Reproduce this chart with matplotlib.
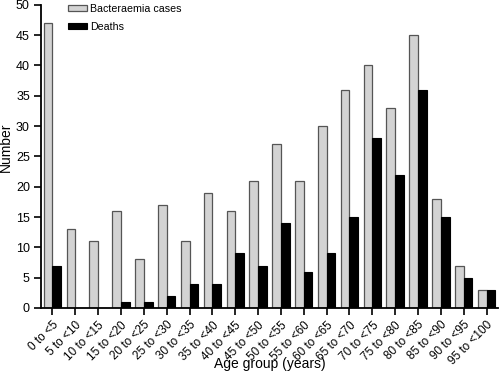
import numpy as np
import matplotlib
matplotlib.use('Agg')
import matplotlib.pyplot as plt

# --- Data --- #
age_groups = ['0 to <5', '5 to <10', '10 to <15', '15 to <20', '20 to <25',
              '25 to <30', '30 to <35', '35 to <40', '40 to <45', '45 to <50',
              '50 to <55', '55 to <60', '60 to <65', '65 to <70', '70 to <75',
              '75 to <80', '80 to <85', '85 to <90', '90 to <95', '95 to <100']
cases = [47, 13, 11, 16, 8, 17, 11, 19, 16, 21, 27, 21, 30, 36, 40, 33, 45, 18, 7, 3]
deaths = [7, 0, 0, 1, 1, 2, 4, 4, 9, 7, 14, 6, 9, 15, 28, 22, 36, 15, 5, 3]

plt.rcParams['font.family'] = ['Liberation Sans', 'DejaVu Sans']

# --- Plot --- #
fig = plt.figure(figsize=(5, 3.76), dpi=100)
ax = fig.add_axes([0.082, 0.181, 0.914, 0.806])

x = np.arange(len(age_groups))
w = 0.38
ax.bar(x - w / 2, cases, width=w, color='#d3d3d3', edgecolor='#555555',
       linewidth=0.9, label='Bacteraemia cases')
ax.bar(x + w / 2, deaths, width=w, color='black', edgecolor='black',
       linewidth=0.8, label='Deaths')

ax.set_xlim(-0.5, len(age_groups) - 0.5)
ax.set_ylim(0, 50)
ax.set_yticks(range(0, 51, 5))
ax.set_xticks(x)
ax.set_xticklabels(age_groups, rotation=45, ha='right', rotation_mode='anchor')
ax.tick_params(direction='out', length=5, width=1.2, pad=3)
ax.tick_params(axis='y', labelsize=9)
ax.tick_params(axis='x', labelsize=8.5)
for s in ['top', 'right']:
    ax.spines[s].set_visible(False)
for s in ['left', 'bottom']:
    ax.spines[s].set_linewidth(1.3)

ax.set_ylabel('Number', fontsize=10)
ax.yaxis.set_label_coords(-0.062, 0.53)
ax.set_xlabel('Age group (years)', fontsize=10)
ax.xaxis.set_label_coords(0.5, -0.162)

ax.legend(loc='upper left', bbox_to_anchor=(68 / 500, 0.99), bbox_transform=fig.transFigure,
          frameon=False, fontsize=7.7, borderpad=0, borderaxespad=0,
          handlelength=1.75, handleheight=0.56, handletextpad=0.3, labelspacing=0.75)

plt.savefig('out.png', dpi=100)
